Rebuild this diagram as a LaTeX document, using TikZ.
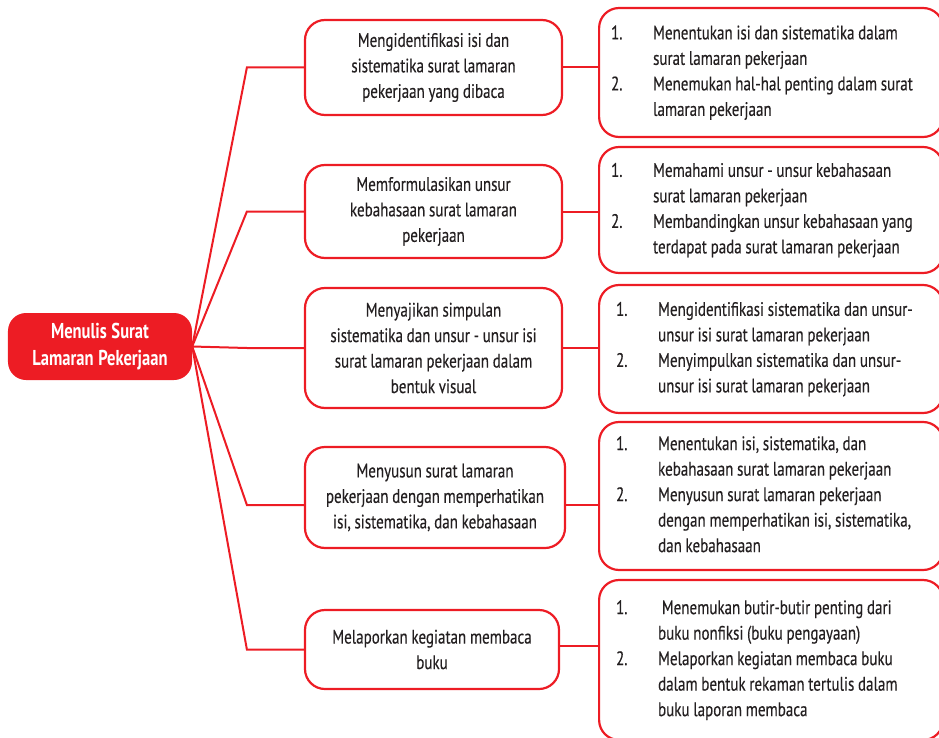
\documentclass[tikz,border=0pt]{standalone}
\usepackage{fontspec}
\setmainfont{PT Sans}[FakeStretch=0.77, UprightFeatures={FakeBold=0.3}]
\definecolor{bred}{HTML}{ED1C24}
\definecolor{tgray}{HTML}{231F20}
\newcommand{\sptight}{\spaceskip=3.7bp plus 1bp minus 0.5bp\relax}
\newcommand{\sproot}{\spaceskip=4.6bp plus 1bp minus 0.5bp\relax}
\begin{document}
\begin{tikzpicture}[x=1bp,y=-1bp,
  txt/.style={font=\fontsize{19.5bp}{25.5bp}\selectfont, execute at begin node=\sptight},
  rootbox/.style={font=\fontsize{21.5bp}{27bp}\selectfont\bfseries, execute at begin node=\sproot, fill=bred, text=white, rounded corners=18bp, align=center, inner sep=0pt},
  midbox/.style={txt, draw=bred, line width=2.2bp, rounded corners=20bp, align=center, text=tgray, inner sep=0pt},
  rbox/.style={txt, draw=bred, line width=2.2bp, rounded corners=20bp, align=left, text=tgray, text width=320bp, inner xsep=12bp, inner ysep=0pt, anchor=west},
  conn/.style={draw=bred, line width=2bp}
]
\useasboundingbox (0,0) rectangle (939,738);
\clip (0,0) rectangle (939,738);

\node[rootbox, minimum width=184bp, minimum height=67bp] (root) at (100,346.5) {Menulis Surat\\Lamaran Pekerjaan};

\node[midbox, minimum width=257bp, minimum height=95bp] (m1) at (433.5,67.5) {Mengidentifikasi isi dan\\sistematika surat lamaran\\pekerjaan yang dibaca};
\node[midbox, minimum width=257bp, minimum height=93bp] (m2) at (433.5,211.5) {Memformulasikan unsur\\kebahasaan surat lamaran\\pekerjaan};
\node[midbox, minimum width=257bp, minimum height=120bp] (m3) at (433.5,348) {Menyajikan simpulan\\sistematika dan unsur - unsur isi\\surat lamaran pekerjaan dalam\\bentuk visual};
\node[midbox, minimum width=260bp, minimum height=101bp] (m4) at (435,497.5) {Menyusun surat lamaran\\pekerjaan dengan memperhatikan\\isi, sistematika, dan kebahasaan};
\node[midbox, minimum width=254bp, minimum height=79bp] (m5) at (432,649.5) {Melaporkan kegiatan membaca\\buku};

\node[rbox, minimum height=129bp] (r1) at (598,72.5) {\begin{tabular}{@{}p{42bp}@{}l@{}}
1. & Menentukan isi dan sistematika dalam\\
 & surat lamaran pekerjaan\\
2. & Menemukan hal-hal penting dalam surat\\
 & lamaran pekerjaan
\end{tabular}};
\node[rbox, minimum height=126bp] (r2) at (598,210) {\begin{tabular}{@{}p{42bp}@{}l@{}}
1. & Memahami unsur - unsur kebahasaan\\
 & surat lamaran pekerjaan\\
2. & Membandingkan unsur kebahasaan yang\\
 & terdapat pada surat lamaran pekerjaan
\end{tabular}};
\node[rbox, minimum height=128bp] (r3) at (598,349) {\begin{tabular}{@{\hspace{5bp}}p{42bp}@{}l@{}}
1. & Mengidentifikasi sistematika dan unsur-\\
 & unsur isi surat lamaran pekerjaan\\
2. & Menyimpulkan sistematika dan unsur-\\
 & unsur isi surat lamaran pekerjaan
\end{tabular}};
\node[rbox, minimum height=148bp] (r4) at (598,496) {\begin{tabular}{@{\hspace{5bp}}p{42bp}@{}l@{}}
1. & Menentukan isi, sistematika, dan\\
 & kebahasaan surat lamaran pekerjaan\\
2. & Menyusun surat lamaran pekerjaan\\
 & dengan memperhatikan isi, sistematika,\\
 & dan kebahasaan
\end{tabular}};
\node[rbox, minimum height=160bp] (r5) at (598,660) {\begin{tabular}{@{\hspace{5bp}}p{42bp}@{}l@{}}
1. & \ Menemukan butir-butir penting dari\\
 & buku nonfiksi (buku pengayaan)\\
2. & Melaporkan kegiatan membaca buku\\
 & dalam bentuk rekaman tertulis dalam\\
 & buku laporan membaca
\end{tabular}};

\foreach \m in {m1,m2,m3,m5}{
  \draw[conn] (root.east) -- ([xshift=-57bp]\m.west) -- (\m.west);
}
\draw[conn] (root.east) -- ([xshift=-57bp,yshift=-7.5bp]m4.west) -- ([yshift=-7.5bp]m4.west);

\draw[conn] (m1.east) -- (m1.east -| r1.west);
\draw[conn] (m2.east) -- (m2.east -| r2.west);
\draw[conn] (m3.east) -- (m3.east -| r3.west);
\draw[conn] ([yshift=-7.5bp]m4.east) -- ([yshift=-7.5bp]m4.east -| r4.west);
\draw[conn] ([yshift=3.5bp]m5.east) -- ([yshift=3.5bp]m5.east -| r5.west);
\end{tikzpicture}
\end{document}
